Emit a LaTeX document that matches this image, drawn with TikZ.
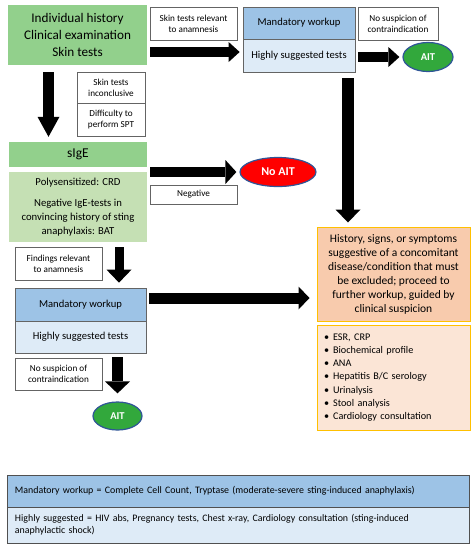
\documentclass[tikz,border=0pt]{standalone}
\usepackage{fontspec}
\setmainfont{Carlito}
\usetikzlibrary{arrows.meta,shapes.geometric,calc}
\definecolor{gDark}{RGB}{146,208,140}
\definecolor{gLight}{RGB}{197,224,180}
\definecolor{bDark}{RGB}{157,195,230}
\definecolor{bLight}{RGB}{222,235,247}
\definecolor{oDark}{RGB}{248,203,173}
\definecolor{oLight}{RGB}{251,229,214}
\definecolor{gold}{RGB}{255,192,0}
\definecolor{aitgreen}{RGB}{50,168,60}
\definecolor{eblue}{RGB}{47,85,151}
\definecolor{bord}{RGB}{100,100,100}
\begin{document}
\begin{tikzpicture}[x=1pt,y=-1pt,
  base/.style={inner sep=0pt, align=center, font=\fontsize{9.2}{11}\selectfont},
  lbl/.style={base, draw=bord, line width=0.6pt, fill=white},
  gbox/.style={base, fill=gDark},
  glbox/.style={base, fill=gLight},
  bt/.style={base, draw=bord, line width=0.7pt, fill=bDark, font=\fontsize{10.6}{12}\selectfont},
  bb/.style={base, draw=bord, line width=0.7pt, fill=bLight, font=\fontsize{10.6}{12}\selectfont},
  obox/.style={base, draw=gold, line width=1pt, fill=oDark},
  olbox/.style={base, draw=gold, line width=1pt, fill=oLight},
  ait/.style={ellipse, draw=eblue, line width=1.2pt, fill=aitgreen, text=white, inner sep=0pt, font=\bfseries\fontsize{10.5}{12}\selectfont},
  noaitstyle/.style={ellipse, draw=eblue, line width=1.2pt, fill=red, text=white, inner sep=0pt, font=\bfseries\fontsize{12}{13}\selectfont},
  blk/.style n args={3}{line width=#1, -{Triangle[width=#2, length=#3, line width=0pt]}}
]
\useasboundingbox (0,0) rectangle (476,550);

\node[gbox, minimum width=139, minimum height=60, font=\fontsize{13.2}{17}\selectfont] (top) at (77.5,35) {Individual history\\Clinical examination\\Skin tests};
\node[lbl, minimum width=87, minimum height=33] (rel) at (193.5,23.5) {Skin tests relevant\\to anamnesis};
\node[bt, minimum width=112, minimum height=32] (mw1t) at (299,23) {Mandatory workup};
\node[bb, minimum width=112, minimum height=33] (mw1b) at (299,55.5) {Highly suggested tests};
\node[lbl, minimum width=80, minimum height=33] (nos1) at (398,23.5) {No suspicion of\\contraindication};
\node[ait, minimum width=50, minimum height=29] (ait1) at (428,57) {AIT};

\node[lbl, minimum width=68, minimum height=31] (inc) at (111,87.5) {Skin tests\\inconclusive};
\node[lbl, minimum width=68, minimum height=33] (dif) at (111,119.5) {Difficulty to\\perform SPT};

\node[gbox, minimum width=138, minimum height=25, font=\fontsize{13.5}{16}\selectfont] (sige) at (78,154.5) {sIgE};
\node[glbox, minimum width=138, minimum height=70, font=\fontsize{10.7}{14}\selectfont] (sinfo) at (78,207) {Polysensitized: CRD\\[7pt]Negative IgE-tests in\\convincing history of sting\\anaphylaxis: BAT};
\node[noaitstyle, minimum width=76, minimum height=29] (noait) at (278,172) {No AIT};
\node[lbl, minimum width=87, minimum height=19] (neg) at (193.5,194.5) {Negative};

\node[lbl, minimum width=87, minimum height=33] (find) at (58.5,263.5) {Findings relevant\\to anamnesis};
\node[bt, minimum width=131, minimum height=33] (mw2t) at (80.5,304.5) {Mandatory workup};
\node[bb, minimum width=131, minimum height=32] (mw2b) at (80.5,337) {Highly suggested tests};
\node[lbl, minimum width=87, minimum height=32] (nos2) at (58.5,374) {No suspicion of\\contraindication};
\node[ait, minimum width=49, minimum height=28] (ait2) at (117.5,416) {AIT};

\node[obox, minimum width=153, minimum height=94, font=\fontsize{11.5}{14}\selectfont] (hist) at (393.5,274) {History, signs, or symptoms\\suggestive of a concomitant\\disease/condition that must\\be excluded; proceed to\\further workup, guided by\\clinical suspicion};
\node[olbox, minimum width=153, minimum height=105, text width=139, align=left, font=\fontsize{10.2}{13.3}\selectfont] (tests) at (393.5,377.5) {\textbullet\hspace{4pt}ESR, CRP\\\textbullet\hspace{4pt}Biochemical profile\\\textbullet\hspace{4pt}ANA\\\textbullet\hspace{4pt}Hepatitis B/C serology\\\textbullet\hspace{4pt}Urinalysis\\\textbullet\hspace{4pt}Stool analysis\\\textbullet\hspace{4pt}Cardiology consultation};

\node[bt, draw=bord!80!black, line width=1pt, minimum width=462, minimum height=32, text width=446, align=left, font=\fontsize{9.9}{12}\selectfont] (legt) at (238,491) {Mandatory workup = Complete Cell Count, Tryptase (moderate-severe sting-induced anaphylaxis)};
\node[bb, draw=bord!80!black, line width=1pt, minimum width=462, minimum height=36, text width=446, align=left, font=\fontsize{9.9}{12}\selectfont] (legb) at (238,525) {Highly suggested = HIV abs, Pregnancy tests, Chest x-ray, Cardiology consultation (sting-induced\\anaphylactic shock)};

% arrows
\draw[blk={11pt}{22pt}{20pt}, shorten <=7pt, shorten >=5pt] ([xshift=-29pt]top.south) -- ([xshift=-29pt]top.south |- sige.north);
\coordinate (a2s) at ($(top.east)+(0,17)$);
\draw[blk={9.5pt}{20pt}{11pt}, shorten <=3pt, shorten >=3pt] (a2s) -- (a2s -| mw1t.west);
\draw[blk={10pt}{20pt}{11pt}, shorten <=3pt, shorten >=3pt] (mw1b.east |- ait1.west) -- (ait1.west);
\coordinate (a4s) at ($(mw1b.south)+(49,0)$);
\draw[blk={12pt}{25pt}{13pt}, shorten <=6pt, shorten >=4pt] (a4s) -- (a4s |- hist.north);
\draw[blk={10pt}{24pt}{11pt}, shorten <=3pt, shorten >=3pt] (sige.east |- noait.west) -- (noait.west);
\coordinate (a6s) at ($(sinfo.south)+(41,0)$);
\draw[blk={9pt}{25pt}{13pt}, shorten <=5pt, shorten >=5pt] (a6s) -- (a6s |- mw2t.north);
\coordinate (a7s) at ($(mw2t.east)+(0,-6.5)$);
\draw[blk={11pt}{23pt}{11pt}, shorten <=3pt, shorten >=7pt] (a7s) -- (a7s -| hist.west);
\draw[blk={11pt}{25pt}{12pt}, shorten <=4pt, shorten >=8pt] (ait2.north |- mw2b.south) -- (ait2.north);
\end{tikzpicture}
\end{document}
